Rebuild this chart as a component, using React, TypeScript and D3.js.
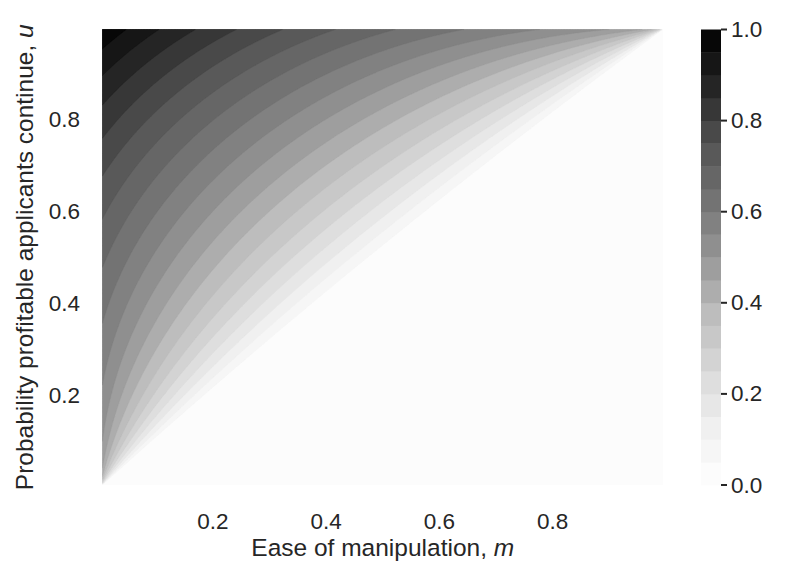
import React, { useEffect, useRef } from "react";
import * as d3 from "d3";

const W = 790;
const H = 576;

// axis ticks
const mTicks = [0.2, 0.4, 0.6, 0.8];
const uTicks = [0.2, 0.4, 0.6, 0.8];
const cbarTicks = [0.0, 0.2, 0.4, 0.6, 0.8, 1.0];
// contourf levels (lower edge of each band)
const levels = [0, 0.05, 0.1, 0.15, 0.2, 0.25, 0.3, 0.35, 0.4, 0.45, 0.5, 0.55, 0.6, 0.65, 0.7, 0.75, 0.8, 0.85, 0.9, 0.95];
const levelStep = 0.05;
// sampled range of m and u
const gridRange = [0.005, 0.995];
// Greys colormap (ColorBrewer 9 classes)
const greys = ["#ffffff", "#f0f0f0", "#d9d9d9", "#bdbdbd", "#969696", "#737373", "#525252", "#252525", "#000000"];

// surface shown in the chart, zero where u <= m
const surface = (m: number, u: number) => {
  const d = u - m;
  if (d <= 0) return 0;
  return d / (d + u * (1 - u) + m * (1 - m));
};

const margin = { left: 102.5, right: 663, top: 29.5, bottom: 485 };
const cbar = { x0: 701, x1: 721 };
const font = "'Liberation Sans', Arial, sans-serif";
const ink = "#262626";

const App = () => {
  const ref = useRef<SVGGElement>(null);

  const x = d3.scaleLinear().domain(gridRange).range([margin.left, margin.right]);
  const y = d3.scaleLinear().domain(gridRange).range([margin.bottom, margin.top]);
  const yc = d3.scaleLinear().domain([0, 1]).range([margin.bottom, margin.top]);
  const color = d3
    .scaleLinear<string>()
    .domain(greys.map((_, i) => i / (greys.length - 1)))
    .range(greys);

  useEffect(() => {
    const n = 360;
    const [lo, hi] = gridRange;
    const step = (hi - lo) / (n - 1);
    const values = new Array(n * n);
    for (let j = 0; j < n; j++) {
      const u = hi - j * step;
      for (let i = 0; i < n; i++) {
        values[j * n + i] = surface(lo + i * step, u);
      }
    }
    const contours = d3.contours().size([n, n]).thresholds(levels)(values);

    const proj = d3.geoTransform({
      point(gx: number, gy: number) {
        this.stream.point(x(lo + (gx - 0.5) * step), y(hi - (gy - 0.5) * step));
      },
    });
    const path = d3.geoPath(proj);

    const g = d3.select(ref.current);
    g.selectAll("*").remove();
    g.selectAll("path")
      .data(contours)
      .enter()
      .append("path")
      .attr("d", (d) => path(d as any))
      .attr("fill", (d) => color(d.value + levelStep / 2))
      .attr("stroke", (d) => color(d.value + levelStep / 2))
      .attr("stroke-width", 0.3);
  }, []);

  return (
    <svg width={W} height={H} style={{ position: "absolute", left: 0, top: 0 }} fontFamily={font}>
      <rect width={W} height={H} fill="white" />
      <defs>
        <clipPath id="plotClip">
          <rect x={margin.left} y={margin.top} width={margin.right - margin.left} height={margin.bottom - margin.top} />
        </clipPath>
      </defs>
      <g ref={ref} clipPath="url(#plotClip)" />

      {mTicks.map((t) => (
        <text key={"m" + t} x={x(t)} y={529} fontSize={22.5} fill={ink} textAnchor="middle">
          {t.toFixed(1)}
        </text>
      ))}
      {uTicks.map((t) => (
        <text key={"u" + t} x={80} y={y(t)} fontSize={22.5} fill={ink} textAnchor="end" dominantBaseline="central">
          {t.toFixed(1)}
        </text>
      ))}

      <text x={(margin.left + margin.right) / 2} y={556} fontSize={24.5} fill={ink} textAnchor="middle">
        Ease of manipulation, <tspan fontStyle="italic">m</tspan>
      </text>
      <text
        transform={`translate(33,${(margin.top + margin.bottom) / 2}) rotate(-90)`}
        fontSize={24.5}
        fill={ink}
        textAnchor="middle"
      >
        Probability profitable applicants continue, <tspan fontStyle="italic">u</tspan>
      </text>

      {levels.map((t) => (
        <rect
          key={"c" + t}
          x={cbar.x0}
          width={cbar.x1 - cbar.x0}
          y={yc(t + levelStep)}
          height={yc(t) - yc(t + levelStep) + 0.4}
          fill={color(t + levelStep / 2)}
        />
      ))}
      {cbarTicks.map((t) => (
        <g key={"ct" + t} transform={`translate(${cbar.x1},${yc(t)})`}>
          <line x1={0} x2={6} stroke={ink} strokeWidth={2} />
          <text x={10} fontSize={22.5} fill={ink} dominantBaseline="central">
            {t.toFixed(1)}
          </text>
        </g>
      ))}
    </svg>
  );
};

export default App;
